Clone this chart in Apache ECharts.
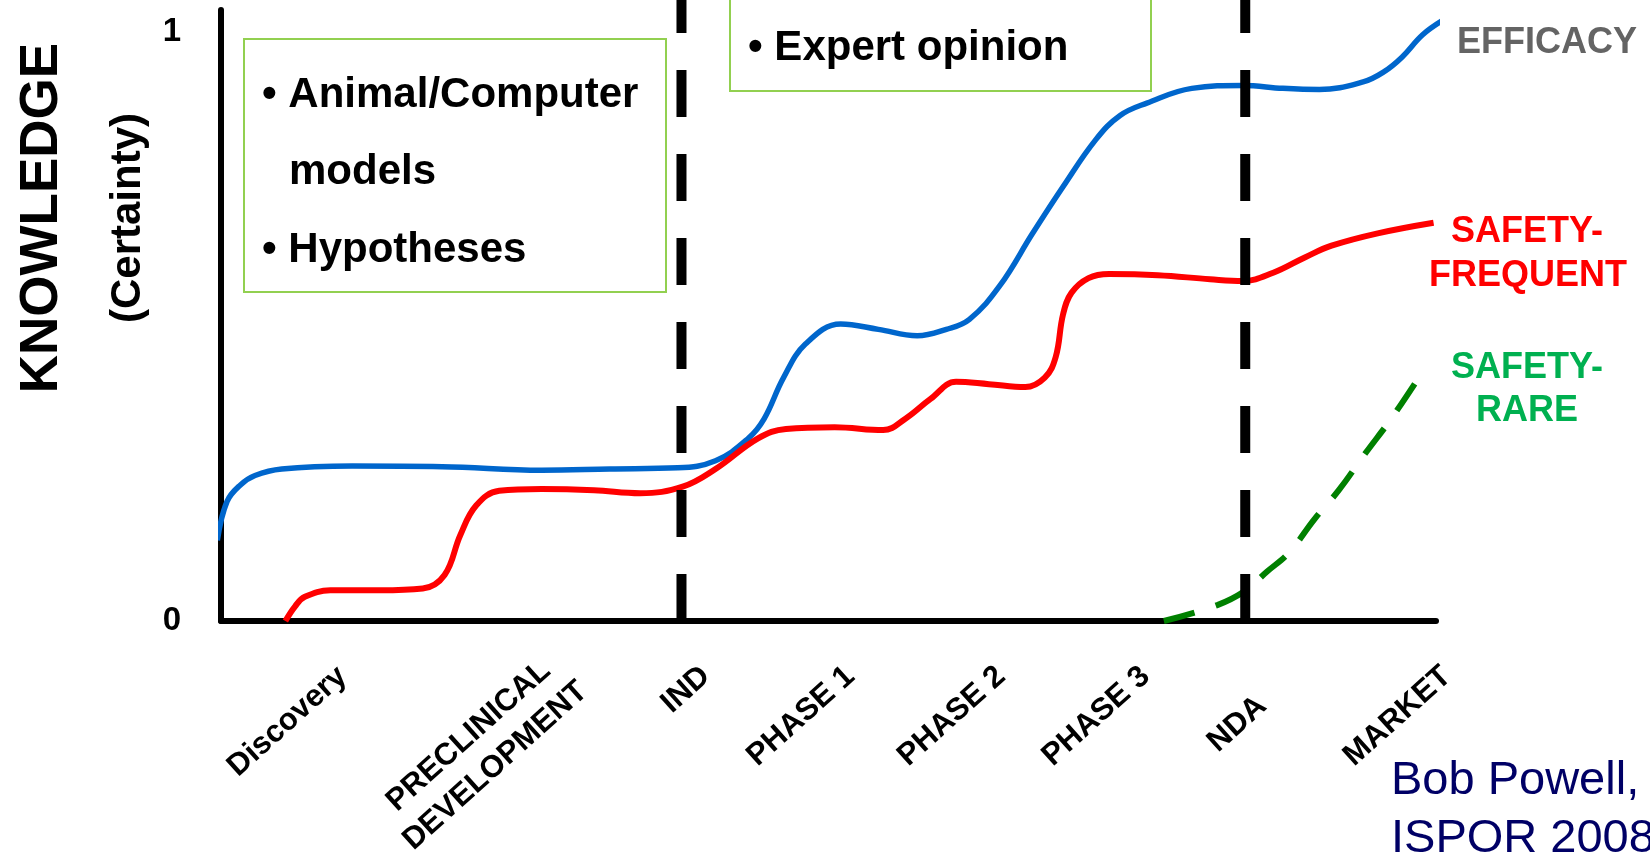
<!DOCTYPE html>
<html>
<head>
<meta charset="utf-8">
<title>Knowledge over the drug development pipeline</title>
<script src="https://cdn.jsdelivr.net/npm/echarts@6.0.0/dist/echarts.min.js"></script>
<style>
  html, body { margin: 0; padding: 0; background: #fff; }
  #chart { width: 1650px; height: 854px; }
</style>
</head>
<body>
<div id="chart"></div>
<script>
// stages along the bottom and where their labels sit on the x scale (0..100 = axis length)
const phases = ['Discovery', 'PRECLINICAL\nDEVELOPMENT', 'IND', 'PHASE 1', 'PHASE 2', 'PHASE 3', 'NDA', 'MARKET']
const phaseAt = [10.0, 28.7, 39.9, 51.8, 64.2, 76.1, 83.5, 100.9]

// the two regulatory gates (IND, NDA)
const gateAt = [37.9, 84.3]

// y tick labels
const yTicks = [0, 1]

// curves, [x, certainty]
const efficacy = [
    [-0.3, 0.137], [0.5, 0.203], [1.6, 0.231], [2.8, 0.247], [5.0, 0.258], [10.8, 0.263],
    [18.2, 0.262], [26.4, 0.256], [32.0, 0.258], [37.6, 0.260], [40.7, 0.272], [43.4, 0.310],
    [44.7, 0.343], [46.3, 0.413], [48.1, 0.470], [51.0, 0.504], [54.1, 0.495], [57.3, 0.484],
    [59.7, 0.495], [61.6, 0.512], [64.1, 0.569], [66.8, 0.658], [69.3, 0.737], [72.0, 0.817],
    [74.0, 0.858], [76.2, 0.879], [79.9, 0.904], [84.1, 0.909], [87.4, 0.904], [90.4, 0.902],
    [94.0, 0.915], [95.7, 0.932], [97.2, 0.957], [98.9, 0.995], [100.6, 1.020]
]
const safetyFrequent = [
    [5.3, 0.0], [6.1, 0.025], [6.9, 0.041], [9.0, 0.052], [13.1, 0.052], [16.6, 0.055],
    [18.4, 0.078], [19.7, 0.146], [21.0, 0.196], [22.9, 0.221], [26.4, 0.224], [30.7, 0.222],
    [34.5, 0.217], [38.0, 0.228], [40.7, 0.258], [44.2, 0.310], [46.5, 0.326], [50.5, 0.329],
    [54.5, 0.324], [56.3, 0.343], [58.4, 0.377], [60.5, 0.406], [63.2, 0.402], [66.2, 0.397],
    [67.8, 0.413], [68.7, 0.448], [69.3, 0.520], [70.0, 0.557], [71.4, 0.582], [73.1, 0.589],
    [77.1, 0.587], [81.4, 0.580], [84.1, 0.577], [86.6, 0.591], [89.2, 0.617], [91.4, 0.637],
    [95.2, 0.658], [99.8, 0.676]
]
const safetyRare = [
    [77.6, 0.0], [82.0, 0.027], [84.2, 0.050], [86.1, 0.084], [87.9, 0.116], [90.0, 0.173],
    [92.0, 0.222], [94.2, 0.285], [96.3, 0.343], [98.8, 0.420]
]

const FONT = '"Liberation Sans", Arial, sans-serif'
const LABEL = { fontFamily: FONT, fontWeight: 'bold', fontSize: 31, color: '#000', lineHeight: 34 }

const chart = echarts.init(document.getElementById('chart'))

const gateSeries = gateAt.map(g => ({
    type: 'line',
    data: [[g, 0], [g, 1.06]],
    symbol: 'none',
    clip: false,
    silent: true,
    z: 5,
    lineStyle: { color: '#000', width: 10, type: [47, 37], cap: 'butt' }
}))

function boldText(text, x, y, size, color, align) {
    return {
        type: 'text', x: x, y: y, silent: true,
        style: {
            text: text, fill: color || '#000', align: align || 'left', verticalAlign: 'middle',
            font: 'bold ' + size + 'px ' + FONT
        }
    }
}

function phaseLabel(v) {
    const name = phases[phaseAt.indexOf(v)]
    if (name === 'NDA') return '{low|' + name + '}'
    if (name.indexOf('\n') >= 0) return name.split('\n').map(s => '{c|' + s + '}').join('\n')
    return name
}

chart.setOption({
    animation: false,
    grid: [
        { left: 221, right: 214, top: 10, bottom: 233, outerBoundsMode: 'none' },
        // same scale, wider, only carries the stage labels
        { left: 221, right: 92.5, top: 10, bottom: 233, outerBoundsMode: 'none' }
    ],
    xAxis: [
        {
            type: 'value', min: 0, max: 100, gridIndex: 0,
            axisLine: { show: true, onZero: true, lineStyle: { color: '#000', width: 6 } },
            axisTick: { show: false },
            axisLabel: { show: false },
            splitLine: { show: false }
        },
        {
            type: 'value', min: 0, max: 110, gridIndex: 1,
            axisLine: { show: false },
            axisTick: { show: false },
            splitLine: { show: false },
            axisLabel: Object.assign({
                customValues: phaseAt,
                formatter: phaseLabel,
                rotate: 42,
                margin: 51,
                rich: {
                    c: Object.assign({}, LABEL, { align: 'center', lineHeight: 40 }),
                    low: Object.assign({ padding: [80, 0, 0, 0] }, LABEL)
                }
            }, LABEL)
        }
    ],
    yAxis: [
        {
            type: 'value', min: 0, max: 1.037, gridIndex: 0,
            axisLine: { show: true, lineStyle: { color: '#000', width: 6 } },
            axisTick: { show: false },
            splitLine: { show: false },
            axisLabel: {
                customValues: yTicks,
                margin: 40,
                padding: [6, 0, 0, 0],
                color: '#000',
                fontFamily: FONT,
                fontWeight: 'bold',
                fontSize: 33
            }
        },
        { type: 'value', min: 0, max: 1, gridIndex: 1, show: false }
    ],
    series: [
        {
            name: 'EFFICACY', type: 'line', data: efficacy, smooth: 0.4,
            symbol: 'none', clip: false, z: 3,
            lineStyle: { color: '#0066CC', width: 5.5 }
        },
        {
            name: 'SAFETY-FREQUENT', type: 'line', data: safetyFrequent, smooth: 0.4,
            symbol: 'none', clip: false, z: 3,
            lineStyle: { color: '#FF0000', width: 6 }
        },
        {
            name: 'SAFETY-RARE', type: 'line', data: safetyRare, smooth: 0.4,
            symbol: 'none', clip: false, z: 4,
            lineStyle: { color: '#008000', width: 6, type: [32, 22], cap: 'butt' }
        },
        ...gateSeries
    ],
    graphic: [
        // y axis titles
        Object.assign(boldText('KNOWLEDGE', 42, 218, 53, '#000', 'center'), { rotation: Math.PI / 2 }),
        Object.assign(boldText('(Certainty)', 128, 218, 42, '#000', 'center'), { rotation: Math.PI / 2 }),

        // annotation boxes
        {
            type: 'rect', silent: true,
            shape: { x: 244, y: 39, width: 422, height: 253 },
            style: { fill: 'none', stroke: '#92D050', lineWidth: 2 }
        },
        {
            type: 'rect', silent: true,
            shape: { x: 730, y: -5, width: 421, height: 96 },
            style: { fill: 'none', stroke: '#92D050', lineWidth: 2 }
        },
        boldText('\u2022 Animal/Computer', 262, 95, 42),
        boldText('models', 289, 172, 42),
        boldText('\u2022 Hypotheses', 262, 250, 42),
        boldText('\u2022 Expert opinion', 748, 48, 42),

        // curve names
        boldText('EFFICACY', 1457, 43, 36, '#646464'),
        boldText('SAFETY-', 1527, 232, 36, '#FF0000', 'center'),
        boldText('FREQUENT', 1528, 276, 36, '#FF0000', 'center'),
        boldText('SAFETY-', 1527, 368, 36, '#00B050', 'center'),
        boldText('RARE', 1527, 411, 36, '#00B050', 'center'),

        // source
        {
            type: 'text', x: 1391, y: 781, silent: true,
            style: { text: 'Bob Powell,', fill: '#000066', verticalAlign: 'middle', font: '47px ' + FONT }
        },
        {
            type: 'text', x: 1391, y: 839, silent: true,
            style: { text: 'ISPOR 2008', fill: '#000066', verticalAlign: 'middle', font: '47px ' + FONT }
        }
    ]
})

window.addEventListener('resize', () => chart.resize())
</script>
</body>
</html>
